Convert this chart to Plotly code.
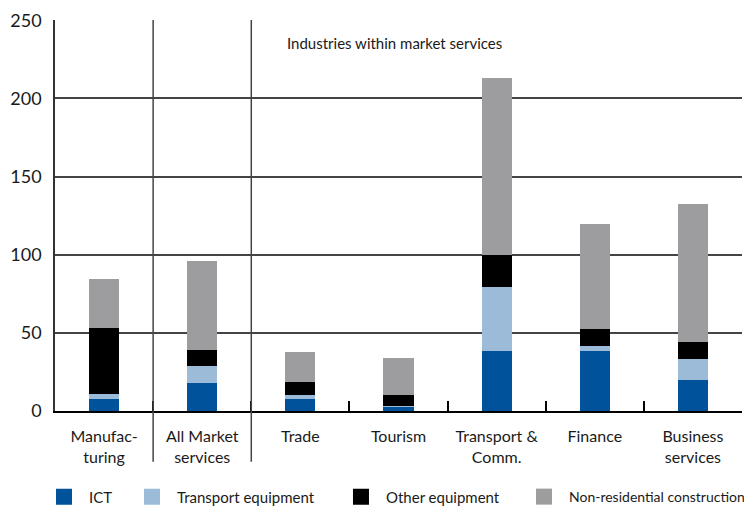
import plotly.graph_objects as go

categories = ["Manufac-<br>turing", "All Market<br>services", "Trade", "Tourism",
              "Transport &<br>Comm.", "Finance", "Business<br>services"]
ict = [8.0, 17.7, 7.8, 2.7, 38.4, 38.4, 19.8]
transport_eq = [2.6, 10.8, 2.6, 0.6, 40.9, 3.2, 13.4]
other_eq = [42.8, 10.8, 8.2, 7.0, 20.4, 10.8, 10.9]
non_res = [31.2, 56.7, 19.1, 23.7, 113.3, 67.2, 88.3]

series_names = ["ICT", "Transport equipment", "Other equipment", "Non-residential construction"]
series_values = [ict, transport_eq, other_eq, non_res]
series_colors = ["#00529B", "#9BBBD9", "#000000", "#9D9D9F"]
legend_x = [-0.0233, 0.1048, 0.409, 0.6754]
legend_font_sizes = [15, 15, 15, 14]

FONT = "Lato"
TXT = "#1a1a1a"

fig = go.Figure()
for name, vals, col in zip(series_names, series_values, series_colors):
    fig.add_trace(go.Bar(x=categories, y=vals, name=name, showlegend=False,
                         marker=dict(color=col, line=dict(width=0))))
# legend entries (one per legend, so each can sit where the reference has it)
for i, (name, col) in enumerate(zip(series_names, series_colors)):
    lg = "legend" if i == 0 else f"legend{i+1}"
    fig.add_trace(go.Scatter(x=[None], y=[None], mode="markers", name=name,
                             marker=dict(symbol="square", size=16, color=col),
                             legend=lg, showlegend=True, hoverinfo="skip"))

# the page body has an 8px margin, so the figure is 8px smaller and margins compensate
L, R, T, B = 47, 10, 12, 95
layout_legends = {}
for i in range(4):
    key = "legend" if i == 0 else f"legend{i+1}"
    layout_legends[key] = dict(orientation="h", xanchor="left", x=legend_x[i],
                               y=-0.22, yanchor="middle",
                               font=dict(size=legend_font_sizes[i], family=FONT, color=TXT),
                               itemsizing="trace", itemwidth=40, borderwidth=0,
                               bgcolor="rgba(0,0,0,0)")

fig.update_layout(
    width=744, height=498,
    margin=dict(l=L, r=R, t=T, b=B, pad=0, autoexpand=False),
    barmode="stack",
    bargap=0.694,
    plot_bgcolor="white", paper_bgcolor="white",
    font=dict(family=FONT, color=TXT),
    showlegend=True,
    xaxis=dict(
        type="category", categoryorder="array", categoryarray=categories,
        range=[-0.5, 6.5], tickson="boundaries", ticks="inside", ticklen=10,
        tickwidth=1.5, tickcolor="#000000",
        showline=True, linecolor="#000000", linewidth=1.5,
        showgrid=False, zeroline=False, automargin=False,
        tickfont=dict(size=16, family=FONT, color=TXT),
        ticklabelstandoff=10,
    ),
    yaxis=dict(
        range=[0, 250.2], tickvals=[0, 50, 100, 150, 200, 250],
        showgrid=True, gridcolor="#444444", gridwidth=1.5,
        showline=True, linecolor="#333333", linewidth=1.5,
        zeroline=False, ticks="", automargin=False,
        tickfont=dict(size=18, family=FONT, color=TXT),
        ticklabelstandoff=8,
    ),
    **layout_legends,
)

for xb in [0.5, 1.5]:
    fig.add_shape(type="line", xref="x", yref="paper", x0=xb, x1=xb,
                  y0=-0.13, y1=1.0, line=dict(color="#444444", width=1.5))

fig.add_annotation(text="Industries within market services", xref="paper", yref="paper",
                   x=0.335, y=0.941, xanchor="left", yanchor="middle", showarrow=False,
                   font=dict(size=15, family=FONT, color=TXT))

fig.write_html("out.html")
